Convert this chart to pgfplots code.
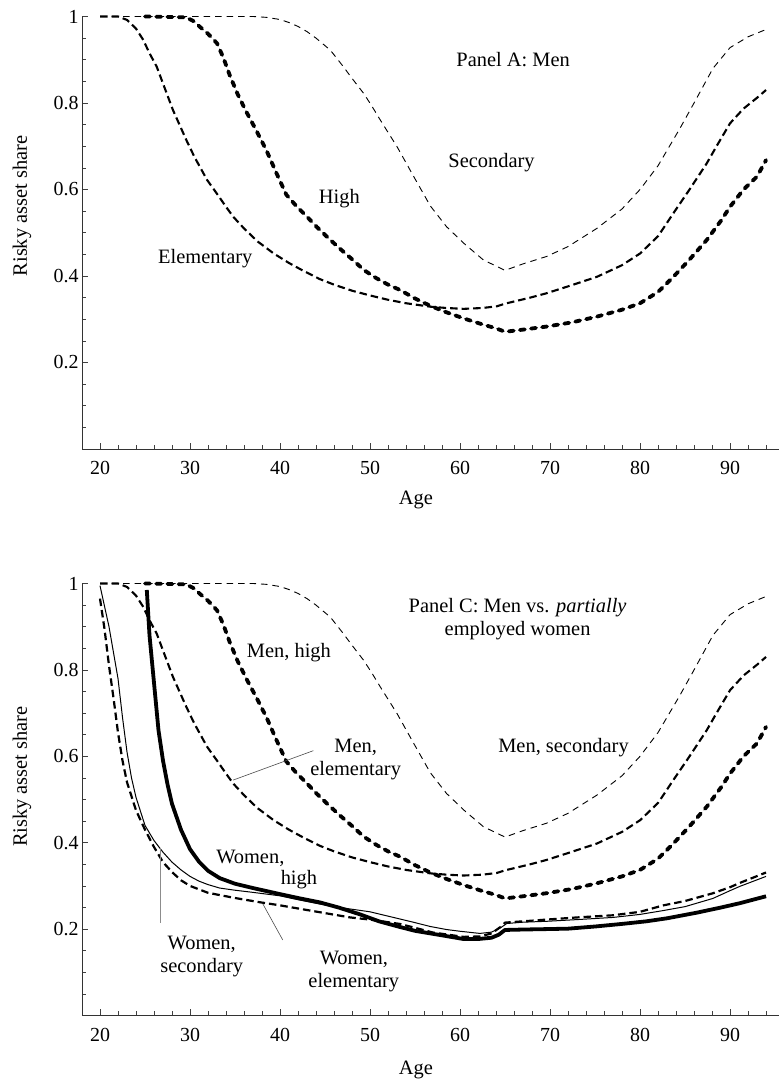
\documentclass[border=0pt]{standalone}
\usepackage{fontspec}
\setmainfont{Liberation Serif}
\usepackage{pgfplots}
\pgfplotsset{compat=1.18}
\usepackage{pgfplotstable}

\pgfplotstableread{
age share
20 1.000
30 1.000
37 1.000
38.5 0.998
40 0.993
41 0.986
42 0.977
43 0.965
44 0.950
45.6 0.922
47 0.885
48 0.857
49.3 0.822
50.2 0.793
51.1 0.762
53 0.699
54.8 0.632
56.7 0.562
58.5 0.514
60.4 0.476
62.6 0.437
65 0.413
67 0.428
69.6 0.445
72 0.468
75.2 0.510
78 0.555
80 0.600
82 0.655
84.4 0.740
86 0.800
88.1 0.880
90 0.928
92 0.953
94 0.970
}\menSec

\pgfplotstableread{
age share
20 1.000
22 1.000
23 0.992
24 0.972
24.8 0.946
25.5 0.915
26.3 0.884
27 0.845
28.1 0.784
29 0.742
29.6 0.714
30.5 0.675
31.9 0.622
33 0.590
34 0.560
34.8 0.537
36 0.510
37.5 0.480
39.3 0.452
41 0.430
42.5 0.413
44.4 0.393
46 0.380
48 0.366
50 0.355
52 0.345
54 0.337
56.7 0.329
58.5 0.326
60.4 0.324
62.5 0.326
64.1 0.330
65 0.336
67.8 0.350
69.6 0.360
72 0.376
75.2 0.398
78 0.425
80 0.452
82 0.492
83.7 0.545
85.5 0.600
87.4 0.660
88.5 0.700
90 0.753
91.5 0.787
93 0.812
94 0.830
}\menElem

\pgfplotstableread{
age share
25 1.000
29.6 0.998
30.5 0.988
31.1 0.976
32 0.960
33 0.938
33.7 0.905
34.4 0.865
35.3 0.820
36.3 0.778
37.4 0.735
38.5 0.690
39.6 0.638
40.7 0.588
41.8 0.562
43 0.537
44.1 0.513
45.2 0.491
46.5 0.466
48.1 0.437
49.3 0.414
50.7 0.395
52 0.380
53.3 0.368
55 0.348
56.7 0.331
58.5 0.316
60.4 0.302
62.5 0.288
64 0.279
65 0.271
67 0.276
69.6 0.283
72.5 0.293
75.2 0.306
78 0.322
80 0.337
82 0.363
83.7 0.398
85.5 0.438
87.4 0.483
89 0.528
90 0.560
91.5 0.600
93 0.630
94 0.668
}\menHigh

\pgfplotstableread{
age share
20 0.995
21 0.900
21.5 0.840
22 0.780
22.5 0.690
23 0.610
23.5 0.550
24 0.505
25 0.440
26 0.405
27 0.378
28 0.355
29 0.337
30 0.322
31 0.311
32 0.303
33.3 0.295
35 0.290
37 0.285
40 0.277
42 0.268
44.4 0.258
47 0.249
50 0.240
52 0.230
54.8 0.216
56.7 0.206
58.5 0.199
60 0.195
62.2 0.190
63.5 0.193
64.5 0.203
65.2 0.213
67 0.216
69.6 0.218
73 0.222
77 0.227
80 0.234
82.6 0.243
85 0.252
88.1 0.271
90 0.289
91.1 0.299
94 0.322
}\womSec

\pgfplotstableread{
age share
20 0.965
20.5 0.895
21 0.810
21.5 0.735
22 0.655
22.5 0.590
23 0.540
24 0.475
25 0.430
26 0.390
27 0.355
28 0.332
29 0.313
30 0.300
32 0.284
35 0.272
37.8 0.262
40 0.255
42.2 0.247
45 0.237
47.8 0.227
50 0.222
53.3 0.212
55 0.203
57 0.192
60.4 0.182
62.2 0.183
63.5 0.190
64.5 0.205
65 0.215
67 0.218
69.6 0.222
73 0.227
77 0.232
80 0.240
82.6 0.255
85 0.265
88.1 0.283
90 0.297
91.1 0.307
94 0.331
}\womElem

\pgfplotstableread{
age share
25.2 0.985
25.5 0.880
26 0.770
26.5 0.660
27 0.590
27.5 0.535
28 0.490
29 0.430
30 0.385
31 0.356
32 0.335
33.3 0.318
35 0.305
37 0.295
40 0.281
42 0.272
44.4 0.262
46.5 0.250
48.9 0.234
51 0.218
53.3 0.205
55 0.196
57 0.189
59 0.182
60.4 0.177
62 0.177
63.5 0.180
64.3 0.187
65 0.198
67 0.199
69.6 0.200
72 0.201
75 0.206
78 0.212
80.7 0.218
83 0.225
86.3 0.238
89 0.250
91.1 0.260
94 0.276
}\womHigh

\tikzset{
  secL/.style={black, line width=0.9bp, dash pattern=on 6.5bp off 5bp, line join=round},
  elemL/.style={black, line width=2.1bp, dash pattern=on 7.5bp off 4bp, line join=round},
  highL/.style={black, line width=3.8bp, line cap=round, dash pattern=on 5bp off 6.2bp, line join=round},
  wsecL/.style={black, line width=1bp, line join=round},
  welemL/.style={black, line width=2.2bp, dash pattern=on 7.5bp off 4bp, line join=round},
  whighL/.style={black, line width=3.8bp, line join=round},
  lab/.style={font=\fontsize{20.5}{23}\selectfont, align=center, inner sep=0pt},
}

\pgfplotsset{
  panel/.style={
    scale only axis, width=697bp,
    xmin=18, xmax=95.44, ymin=0, ymax=1,
    axis x line*=bottom, axis y line*=left,
    axis line style={draw=black!80, line width=0.9bp},
    xtick={20,30,40,50,60,70,80,90},
    xticklabels={20,30,40,50,60,70,80,90},
    minor xtick={22,24,26,28,32,34,36,38,42,44,46,48,52,54,56,58,62,64,66,68,72,74,76,78,82,84,86,88,92,94},
    ytick={0.2,0.4,0.6,0.8,1},
    yticklabels={0.2,0.4,0.6,0.8,1},
    minor ytick={0.05,0.1,0.15,0.25,0.3,0.35,0.45,0.5,0.55,0.65,0.7,0.75,0.85,0.9,0.95},
    tick align=inside,
    major tick length=6bp, minor tick length=4bp,
    every tick/.style={draw=black!75, line width=0.7bp},
    tick label style={font=\fontsize{20}{22}\selectfont},
    xticklabel style={anchor=base, yshift=-26bp},
    yticklabel style={anchor=east},
    label style={font=\fontsize{20.5}{23}\selectfont},
    xlabel={Age},
    ylabel={Risky asset share},
    clip=false,
  },
}

\begin{document}
\begin{tikzpicture}
\path[use as bounding box] (0,0) rectangle (779bp,1086bp);

% Panel A
\begin{axis}[panel, at={(82bp,637bp)}, anchor=south west, height=432.5bp,
  xlabel style={at={(axis description cs:0.479,0)}, anchor=base, yshift=-56bp},
  ylabel style={at={(axis description cs:-0.0861,0.562)}, anchor=center}]
\addplot[secL] table[x=age,y=share] {\menSec};
\addplot[elemL] table[x=age,y=share] {\menElem};
\addplot[highL] table[x=age,y=share] {\menHigh};
\node[lab] at (axis cs:65.9,0.9) {Panel A: Men};
\node[lab] at (axis cs:63.5,0.661) {Secondary};
\node[lab] at (axis cs:46.6,0.58) {High};
\node[lab] at (axis cs:31.7,0.441) {Elementary};
\end{axis}

% Panel C
\begin{axis}[panel, at={(82bp,70.5bp)}, anchor=south west, height=432bp,
  xlabel style={at={(axis description cs:0.479,0)}, anchor=base, yshift=-59bp},
  ylabel style={at={(axis description cs:-0.0861,0.553)}, anchor=center}]
\addplot[secL] table[x=age,y=share] {\menSec};
\addplot[elemL] table[x=age,y=share] {\menElem};
\addplot[highL] table[x=age,y=share] {\menHigh};
\addplot[wsecL] table[x=age,y=share] {\womSec};
\addplot[welemL] table[x=age,y=share] {\womElem};
\addplot[whighL] table[x=age,y=share] {\womHigh};
\node[lab] at (axis cs:66.4,0.918) {Panel C: Men vs. \textit{partially}\\employed women};
\node[lab, anchor=west] at (axis cs:36.3,0.84) {Men, high};
\node[lab] at (axis cs:71.5,0.621) {Men, secondary};
\node[lab] at (axis cs:48.4,0.593) {Men,\\elementary};
\draw[black!70, line width=0.6bp] (axis cs:43.7,0.613) -- (axis cs:34.8,0.545);
\node[lab] at (axis cs:36.7,0.364) {Women,};
\node[lab] at (axis cs:42.1,0.315) {high};
\node[lab] at (axis cs:31.3,0.136) {Women,\\secondary};
\draw[black!45, line width=1bp] (axis cs:26.74,0.387) -- (axis cs:26.74,0.213);
\node[lab] at (axis cs:48.2,0.101) {Women,\\elementary};
\draw[black!70, line width=0.6bp] (axis cs:38.1,0.258) -- (axis cs:40.3,0.175);
\end{axis}
\end{tikzpicture}
\end{document}
